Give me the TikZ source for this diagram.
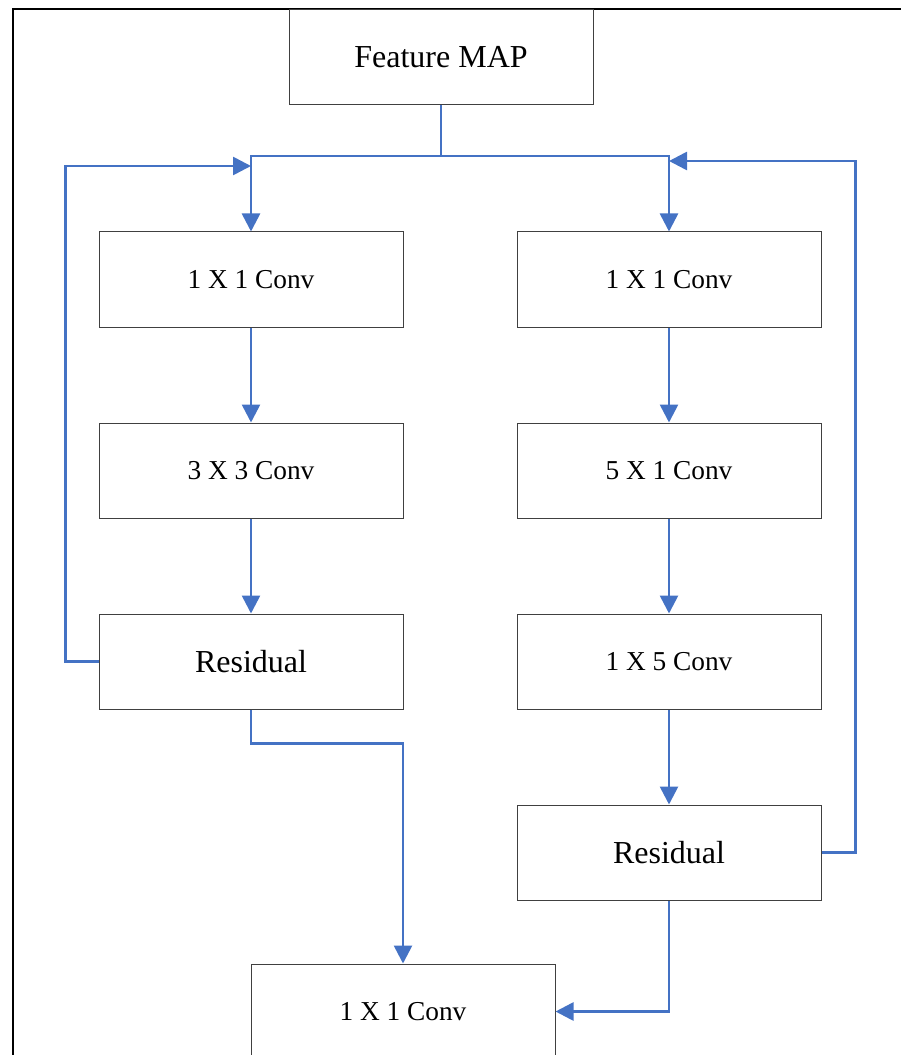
\documentclass[tikz,border=0pt]{standalone}
\usepackage{fontspec}
\setmainfont{Liberation Serif}
\usetikzlibrary{arrows.meta}
\definecolor{flowblue}{HTML}{4472C4}
\begin{document}
\begin{tikzpicture}[x=0.75pt,y=-0.75pt,
    box/.style={draw=black!75,line width=0.75pt,minimum width=228pt,
                minimum height=71.25pt,inner sep=0pt,
                font=\fontsize{20.5}{24}\selectfont},
    big/.style={font=\fontsize{24}{28}\selectfont},
    flow/.style={draw=flowblue,line width=2pt,
                 -{Triangle[length=13.5pt,width=13.5pt]}},
    link/.style={draw=flowblue,line width=2pt}]
  \useasboundingbox (0,0) rectangle (900,1055);
  \draw[line width=1.1pt] (13,1060) -- (13,9) -- (905,9);

  \node[box,big] (fm)  at (441,57)    {Feature MAP};
  \node[box]     (c1)  at (251,279.5) {1 X 1 Conv};
  \node[box]     (c2)  at (251,470.5) {3 X 3 Conv};
  \node[box,big] (r1)  at (251,661.5) {Residual};
  \node[box]     (d1)  at (669,279.5) {1 X 1 Conv};
  \node[box]     (d2)  at (669,470.5) {5 X 1 Conv};
  \node[box]     (d3)  at (669,661.5) {1 X 5 Conv};
  \node[box,big] (r2)  at (669,852.5) {Residual};
  \node[box]     (out) at (403,1011.5) {1 X 1 Conv};

  \coordinate (split) at (441,156);
  \coordinate (fbl)   at (251,166);
  \coordinate (fbr)   at (669,161);

  \draw[link] (fm.south) -- (split);
  \draw[flow] (split) -| (c1.north);
  \draw[flow] (split) -| (d1.north);
  \draw[flow] (c1) -- (c2);
  \draw[flow] (c2) -- (r1);
  \draw[flow] (d1) -- (d2);
  \draw[flow] (d2) -- (d3);
  \draw[flow] (d3) -- (r2);
  \draw[flow] (r1.west) -- ++(-33,0) |- (fbl);
  \draw[flow] (r2.east) -- ++(34,0) |- (fbr);
  \draw[flow] (r1.south) -- ++(0,34) -| (out.north);
  \draw[flow] (r2.south) |- (out.east);
\end{tikzpicture}
\end{document}
